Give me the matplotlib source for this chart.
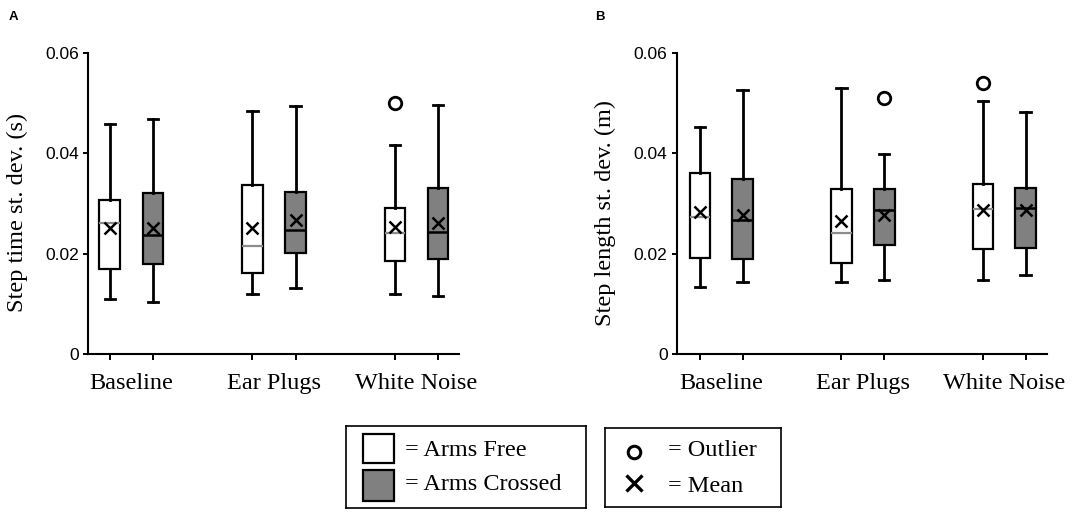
"""Step time / step length variability boxplots (arms free vs arms crossed)."""

import matplotlib

matplotlib.use("Agg")
import matplotlib.pyplot as plt
from matplotlib.patches import Rectangle

CONDITIONS = ["Baseline", "Ear Plugs", "White Noise"]

# per condition: [whisker low, Q1, median, Q3, whisker high, mean]
TIME_FREE = [
    [0.0109, 0.0169, 0.0262, 0.0307, 0.0459, 0.0252],
    [0.0119, 0.0162, 0.0216, 0.0336, 0.0485, 0.0252],
    [0.0119, 0.0185, 0.0242, 0.0291, 0.0416, 0.0254],
]
TIME_CROSSED = [
    [0.0104, 0.0179, 0.0238, 0.0321, 0.0469, 0.0252],
    [0.0131, 0.0201, 0.0248, 0.0323, 0.0495, 0.0268],
    [0.0116, 0.0189, 0.0244, 0.0330, 0.0497, 0.0262],
]
TIME_FREE_OUTLIERS = [[], [], [0.0500]]
TIME_CROSSED_OUTLIERS = [[], [], []]

LENGTH_FREE = [
    [0.0134, 0.0191, 0.0273, 0.0360, 0.0453, 0.0284],
    [0.0143, 0.0181, 0.0242, 0.0328, 0.0530, 0.0266],
    [0.0147, 0.0210, 0.0289, 0.0339, 0.0504, 0.0287],
]
LENGTH_CROSSED = [
    [0.0144, 0.0189, 0.0268, 0.0349, 0.0526, 0.0278],
    [0.0147, 0.0218, 0.0288, 0.0328, 0.0399, 0.0277],
    [0.0158, 0.0212, 0.0292, 0.0331, 0.0483, 0.0288],
]
LENGTH_FREE_OUTLIERS = [[], [], [0.0540]]
LENGTH_CROSSED_OUTLIERS = [[], [0.0510], []]

Y_TICKS = [0, 0.02, 0.04, 0.06]
Y_TICK_LABELS = ["0", "0.02", "0.04", "0.06"]

SERIF = "Liberation Serif"
SANS = "Liberation Sans"
GREY = "#808080"
OFFSET = 0.151
BOX_W = 0.147
W, H = 1084, 512


def make_stats(rows, outliers):
    stats = []
    for (lo, q1, med, q3, hi, mean), fl in zip(rows, outliers):
        stats.append({"whislo": lo, "q1": q1, "med": med, "q3": q3,
                      "whishi": hi, "mean": mean, "fliers": fl})
    return stats


def draw_panel(ax, free, crossed, free_out, crossed_out, ylabel, xlim):
    groups = range(len(CONDITIONS))
    pos_free = [g - OFFSET for g in groups]
    pos_crossed = [g + OFFSET for g in groups]

    common = dict(
        widths=BOX_W, patch_artist=True, showmeans=True,
        whiskerprops={"color": "black", "linewidth": 2.0},
        capprops={"color": "black", "linewidth": 2.0},
        meanprops={"marker": "x", "markeredgecolor": "black", "markersize": 9,
                   "markeredgewidth": 1.8},
        flierprops={"marker": "o", "markerfacecolor": "white", "markeredgecolor": "black",
                    "markersize": 9, "markeredgewidth": 2.0},
        manage_ticks=False,
    )
    ax.bxp(make_stats(free, free_out), positions=pos_free,
           boxprops={"facecolor": "white", "edgecolor": "black", "linewidth": 1.6},
           medianprops={"color": "#8c8c8c", "linewidth": 1.6}, **common)
    ax.bxp(make_stats(crossed, crossed_out), positions=pos_crossed,
           boxprops={"facecolor": GREY, "edgecolor": "black", "linewidth": 1.6},
           medianprops={"color": "black", "linewidth": 1.8}, **common)

    ax.set_xlim(*xlim)
    ax.set_ylim(0, 0.06)
    ax.set_yticks(Y_TICKS)
    ax.set_yticklabels(Y_TICK_LABELS, fontname=SANS, fontsize=12.5)
    ax.set_xticks(sorted(pos_free + pos_crossed))
    ax.set_xticklabels([])
    ax.set_xticks(list(groups), minor=True)
    ax.set_xticklabels(CONDITIONS, minor=True, fontname=SERIF, fontsize=17.5)
    ax.tick_params(axis="x", which="minor", length=0, pad=14)
    ax.tick_params(axis="x", which="major", length=4, width=1.4, direction="out")
    ax.tick_params(axis="y", length=3.6, width=1.4, pad=3)
    for side in ("top", "right"):
        ax.spines[side].set_visible(False)
    for side in ("left", "bottom"):
        ax.spines[side].set_linewidth(1.5)
    ax.set_ylabel(ylabel, fontname=SERIF, fontsize=17.5)
    ax.yaxis.set_label_coords(-0.163, 0.47)


def legend_box(x0, y0, x1, y1):
    """Framed axes working in pixel units, origin at the box's top-left."""
    lax = fig.add_axes([x0 / W, 1 - y1 / H, (x1 - x0) / W, (y1 - y0) / H])
    lax.set_xlim(0, x1 - x0)
    lax.set_ylim(y1 - y0, 0)
    lax.set_xticks([])
    lax.set_yticks([])
    for sp in lax.spines.values():
        sp.set_linewidth(1.2)
    return lax


fig = plt.figure(figsize=(W / 100, H / 100), dpi=100)
ax_a = fig.add_axes([0.0812, 0.3086, 0.3422, 0.5879])
ax_b = fig.add_axes([0.6243, 0.3086, 0.3413, 0.5879])

draw_panel(ax_a, TIME_FREE, TIME_CROSSED, TIME_FREE_OUTLIERS, TIME_CROSSED_OUTLIERS,
           "Step time st. dev. (s)", (-0.305, 2.298))
draw_panel(ax_b, LENGTH_FREE, LENGTH_CROSSED, LENGTH_FREE_OUTLIERS, LENGTH_CROSSED_OUTLIERS,
           "Step length st. dev. (m)", (-0.315, 2.30))

fig.text(0.012, 0.967, "A", fontname=SANS, fontweight="bold", fontsize=9.5,
         ha="center", va="center")
fig.text(0.553, 0.967, "B", fontname=SANS, fontweight="bold", fontsize=9.5,
         ha="center", va="center")

# legend: box colours
leg1 = legend_box(346, 426, 586, 508)
leg1.add_patch(Rectangle((17, 8), 31, 29, facecolor="white", edgecolor="black", lw=1.6))
leg1.add_patch(Rectangle((17, 44), 31, 31, facecolor=GREY, edgecolor="black", lw=1.6))
leg1.text(59, 24, "= Arms Free", fontname=SERIF, fontsize=17.5, va="center")
leg1.text(59, 58, "= Arms Crossed", fontname=SERIF, fontsize=17.5, va="center")

# legend: marker meaning
leg2 = legend_box(605, 428, 781, 507)
leg2.plot([29], [24], marker="o", linestyle="none", markerfacecolor="white",
          markeredgecolor="black", markersize=9, markeredgewidth=2.2)
leg2.plot([29], [55], marker="x", linestyle="none", markeredgecolor="black",
          markersize=11.5, markeredgewidth=2.4)
leg2.text(63, 23, "= Outlier", fontname=SERIF, fontsize=17.5, va="center")
leg2.text(63, 58, "= Mean", fontname=SERIF, fontsize=17.5, va="center")

fig.savefig("out.png", dpi=100)
plt.close(fig)
print("saved out.png")
